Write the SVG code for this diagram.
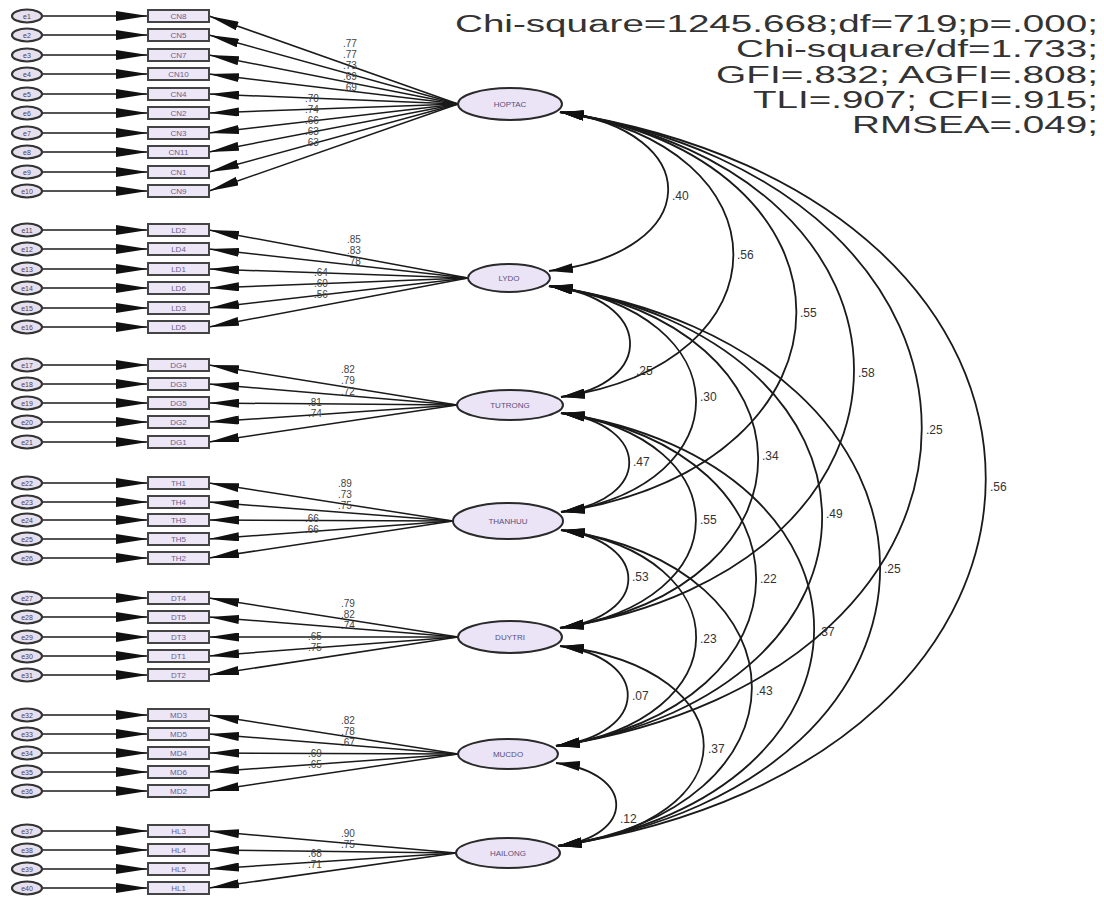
<svg xmlns="http://www.w3.org/2000/svg" width="1104" height="898" viewBox="0 0 1104 898">
<style>
.err{fill:#e6e0ee;stroke:#333;stroke-width:2.2}
.obs{fill:#ece6f6;stroke:#444;stroke-width:2}
.lat{fill:#ebe3f6;stroke:#2a2a2a;stroke-width:2}
.et{font-family:"Liberation Sans",Arial,sans-serif;font-size:7px;fill:#4a4060;text-anchor:middle}
.ot{font-family:"Liberation Sans",Arial,sans-serif;font-size:8px;fill:#6a5f8c;text-anchor:middle}
.lt{font-family:"Liberation Sans",Arial,sans-serif;font-size:8px;fill:#5a4f7c;text-anchor:middle}
.ln{fill:none;stroke:#1a1a1a;stroke-width:1.5}
.cv{fill:none;stroke:#1a1a1a;stroke-width:1.8}
.wt{font-family:"Liberation Sans",Arial,sans-serif;font-size:10px;fill:#444}
.ct{font-family:"Liberation Sans",Arial,sans-serif;font-size:12px;fill:#333}
.st{font-family:"Liberation Sans",Arial,sans-serif;font-size:23px;fill:#333}
</style>
<defs>
<marker id="arrE" markerUnits="userSpaceOnUse" viewBox="0 0 32 10" markerWidth="32" markerHeight="10" refX="32" refY="5" orient="auto"><path d="M0,0 L32,5 L0,10 z" fill="#111"/></marker>
<marker id="arrL" markerUnits="userSpaceOnUse" viewBox="0 0 30 9" markerWidth="30" markerHeight="9" refX="30" refY="4.5" orient="auto"><path d="M0,0 L30,4.5 L0,9 z" fill="#111"/></marker>
<marker id="arrC" markerUnits="userSpaceOnUse" viewBox="0 0 24 10" markerWidth="24" markerHeight="10" refX="24" refY="5" orient="auto-start-reverse"><path d="M0,0 L24,5 L0,10 z" fill="#111"/></marker>
</defs>
<rect width="1104" height="898" fill="#fff"/>

<g id="connectors">
<g id="error-arrows" class="ln" marker-end="url(#arrE)">
<path d="M42,16 H148"/><path d="M42,35 H148"/><path d="M42,55 H148"/><path d="M42,74 H148"/><path d="M42,94 H148"/><path d="M42,113 H148"/><path d="M42,133 H148"/><path d="M42,152 H148"/><path d="M42,172 H148"/><path d="M42,191 H148"/>
<path d="M42,230 H148"/><path d="M42,249 H148"/><path d="M42,269 H148"/><path d="M42,288 H148"/><path d="M42,308 H148"/><path d="M42,327 H148"/>
<path d="M42,365 H148"/><path d="M42,384 H148"/><path d="M42,403 H148"/><path d="M42,422 H148"/><path d="M42,442 H148"/>
<path d="M42,483 H148"/><path d="M42,502 H148"/><path d="M42,520 H148"/><path d="M42,539 H148"/><path d="M42,558 H148"/>
<path d="M42,598 H148"/><path d="M42,617 H148"/><path d="M42,637 H148"/><path d="M42,656 H148"/><path d="M42,675 H148"/>
<path d="M42,715 H148"/><path d="M42,734 H148"/><path d="M42,753 H148"/><path d="M42,772 H148"/><path d="M42,791 H148"/>
<path d="M42,831 H148"/><path d="M42,850 H148"/><path d="M42,869 H148"/><path d="M42,888 H148"/>
</g>
<g id="loadings" class="ln" marker-end="url(#arrL)">
<path d="M458,104 L209,16"/><path d="M458,104 L209,35"/><path d="M458,104 L209,55"/><path d="M458,104 L209,74"/><path d="M458,104 L209,94"/><path d="M458,104 L209,113"/><path d="M458,104 L209,133"/><path d="M458,104 L209,152"/><path d="M458,104 L209,172"/><path d="M458,104 L209,191"/>
<path d="M468,278 L209,230"/><path d="M468,278 L209,249"/><path d="M468,278 L209,269"/><path d="M468,278 L209,288"/><path d="M468,278 L209,308"/><path d="M468,278 L209,327"/>
<path d="M457,405 L209,365"/><path d="M457,405 L209,384"/><path d="M457,405 L209,403"/><path d="M457,405 L209,422"/><path d="M457,405 L209,442"/>
<path d="M453,521 L209,483"/><path d="M453,521 L209,502"/><path d="M453,521 L209,520"/><path d="M453,521 L209,539"/><path d="M453,521 L209,558"/>
<path d="M458,637 L209,598"/><path d="M458,637 L209,617"/><path d="M458,637 L209,637"/><path d="M458,637 L209,656"/><path d="M458,637 L209,675"/>
<path d="M458,754 L209,715"/><path d="M458,754 L209,734"/><path d="M458,754 L209,753"/><path d="M458,754 L209,772"/><path d="M458,754 L209,791"/>
<path d="M456,853 L209,831"/><path d="M456,853 L209,850"/><path d="M456,853 L209,869"/><path d="M456,853 L209,888"/>
</g>
<g id="covariances" class="cv" marker-start="url(#arrC)" marker-end="url(#arrC)">
<path d="M560,112 C706,131 706,252 549,271"/>
<path d="M560,112 C791,146 791,363 561,397"/>
<path d="M560,112 C875,160 875,464 561,512"/>
<path d="M560,112 C952,174 952,566 560,628"/>
<path d="M560,112 C1043,188 1043,670 556,746"/>
<path d="M560,112 C1128,200 1128,758 558,846"/>
<path d="M549,286 C655,299 655,384 561,397"/>
<path d="M549,286 C743,313 743,485 561,512"/>
<path d="M549,286 C826,327 826,587 560,628"/>
<path d="M549,286 C912,341 912,691 556,746"/>
<path d="M549,286 C989,353 989,779 558,846"/>
<path d="M561,413 C652,425 652,500 561,512"/>
<path d="M561,413 C741,439 741,602 560,628"/>
<path d="M561,413 C822,453 822,706 556,746"/>
<path d="M561,413 C899,465 899,794 558,846"/>
<path d="M561,530 C651,542 651,616 560,628"/>
<path d="M561,530 C742,556 742,720 556,746"/>
<path d="M561,530 C816,568 816,808 558,846"/>
<path d="M560,646 C651,658 651,734 556,746"/>
<path d="M560,646 C752,670 752,822 558,846"/>
<path d="M556,763 C636,773 636,836 558,846"/>
</g>
</g>

<g id="errors">
<g id="e1"><ellipse class="err" cx="27" cy="16" rx="15" ry="6.5"/><text class="et" x="27" y="18.5">e1</text></g>
<g id="e2"><ellipse class="err" cx="27" cy="35" rx="15" ry="6.5"/><text class="et" x="27" y="37.5">e2</text></g>
<g id="e3"><ellipse class="err" cx="27" cy="55" rx="15" ry="6.5"/><text class="et" x="27" y="57.5">e3</text></g>
<g id="e4"><ellipse class="err" cx="27" cy="74" rx="15" ry="6.5"/><text class="et" x="27" y="76.5">e4</text></g>
<g id="e5"><ellipse class="err" cx="27" cy="94" rx="15" ry="6.5"/><text class="et" x="27" y="96.5">e5</text></g>
<g id="e6"><ellipse class="err" cx="27" cy="113" rx="15" ry="6.5"/><text class="et" x="27" y="115.5">e6</text></g>
<g id="e7"><ellipse class="err" cx="27" cy="133" rx="15" ry="6.5"/><text class="et" x="27" y="135.5">e7</text></g>
<g id="e8"><ellipse class="err" cx="27" cy="152" rx="15" ry="6.5"/><text class="et" x="27" y="154.5">e8</text></g>
<g id="e9"><ellipse class="err" cx="27" cy="172" rx="15" ry="6.5"/><text class="et" x="27" y="174.5">e9</text></g>
<g id="e10"><ellipse class="err" cx="27" cy="191" rx="15" ry="6.5"/><text class="et" x="27" y="193.5">e10</text></g>
<g id="e11"><ellipse class="err" cx="27" cy="230" rx="15" ry="6.5"/><text class="et" x="27" y="232.5">e11</text></g>
<g id="e12"><ellipse class="err" cx="27" cy="249" rx="15" ry="6.5"/><text class="et" x="27" y="251.5">e12</text></g>
<g id="e13"><ellipse class="err" cx="27" cy="269" rx="15" ry="6.5"/><text class="et" x="27" y="271.5">e13</text></g>
<g id="e14"><ellipse class="err" cx="27" cy="288" rx="15" ry="6.5"/><text class="et" x="27" y="290.5">e14</text></g>
<g id="e15"><ellipse class="err" cx="27" cy="308" rx="15" ry="6.5"/><text class="et" x="27" y="310.5">e15</text></g>
<g id="e16"><ellipse class="err" cx="27" cy="327" rx="15" ry="6.5"/><text class="et" x="27" y="329.5">e16</text></g>
<g id="e17"><ellipse class="err" cx="27" cy="365" rx="15" ry="6.5"/><text class="et" x="27" y="367.5">e17</text></g>
<g id="e18"><ellipse class="err" cx="27" cy="384" rx="15" ry="6.5"/><text class="et" x="27" y="386.5">e18</text></g>
<g id="e19"><ellipse class="err" cx="27" cy="403" rx="15" ry="6.5"/><text class="et" x="27" y="405.5">e19</text></g>
<g id="e20"><ellipse class="err" cx="27" cy="422" rx="15" ry="6.5"/><text class="et" x="27" y="424.5">e20</text></g>
<g id="e21"><ellipse class="err" cx="27" cy="442" rx="15" ry="6.5"/><text class="et" x="27" y="444.5">e21</text></g>
<g id="e22"><ellipse class="err" cx="27" cy="483" rx="15" ry="6.5"/><text class="et" x="27" y="485.5">e22</text></g>
<g id="e23"><ellipse class="err" cx="27" cy="502" rx="15" ry="6.5"/><text class="et" x="27" y="504.5">e23</text></g>
<g id="e24"><ellipse class="err" cx="27" cy="520" rx="15" ry="6.5"/><text class="et" x="27" y="522.5">e24</text></g>
<g id="e25"><ellipse class="err" cx="27" cy="539" rx="15" ry="6.5"/><text class="et" x="27" y="541.5">e25</text></g>
<g id="e26"><ellipse class="err" cx="27" cy="558" rx="15" ry="6.5"/><text class="et" x="27" y="560.5">e26</text></g>
<g id="e27"><ellipse class="err" cx="27" cy="598" rx="15" ry="6.5"/><text class="et" x="27" y="600.5">e27</text></g>
<g id="e28"><ellipse class="err" cx="27" cy="617" rx="15" ry="6.5"/><text class="et" x="27" y="619.5">e28</text></g>
<g id="e29"><ellipse class="err" cx="27" cy="637" rx="15" ry="6.5"/><text class="et" x="27" y="639.5">e29</text></g>
<g id="e30"><ellipse class="err" cx="27" cy="656" rx="15" ry="6.5"/><text class="et" x="27" y="658.5">e30</text></g>
<g id="e31"><ellipse class="err" cx="27" cy="675" rx="15" ry="6.5"/><text class="et" x="27" y="677.5">e31</text></g>
<g id="e32"><ellipse class="err" cx="27" cy="715" rx="15" ry="6.5"/><text class="et" x="27" y="717.5">e32</text></g>
<g id="e33"><ellipse class="err" cx="27" cy="734" rx="15" ry="6.5"/><text class="et" x="27" y="736.5">e33</text></g>
<g id="e34"><ellipse class="err" cx="27" cy="753" rx="15" ry="6.5"/><text class="et" x="27" y="755.5">e34</text></g>
<g id="e35"><ellipse class="err" cx="27" cy="772" rx="15" ry="6.5"/><text class="et" x="27" y="774.5">e35</text></g>
<g id="e36"><ellipse class="err" cx="27" cy="791" rx="15" ry="6.5"/><text class="et" x="27" y="793.5">e36</text></g>
<g id="e37"><ellipse class="err" cx="27" cy="831" rx="15" ry="6.5"/><text class="et" x="27" y="833.5">e37</text></g>
<g id="e38"><ellipse class="err" cx="27" cy="850" rx="15" ry="6.5"/><text class="et" x="27" y="852.5">e38</text></g>
<g id="e39"><ellipse class="err" cx="27" cy="869" rx="15" ry="6.5"/><text class="et" x="27" y="871.5">e39</text></g>
<g id="e40"><ellipse class="err" cx="27" cy="888" rx="15" ry="6.5"/><text class="et" x="27" y="890.5">e40</text></g>
</g>

<g id="observed">
<g id="CN8"><rect class="obs" x="148" y="10" width="61" height="12"/><text class="ot" x="178.5" y="19">CN8</text></g>
<g id="CN5"><rect class="obs" x="148" y="29" width="61" height="12"/><text class="ot" x="178.5" y="38">CN5</text></g>
<g id="CN7"><rect class="obs" x="148" y="49" width="61" height="12"/><text class="ot" x="178.5" y="58">CN7</text></g>
<g id="CN10"><rect class="obs" x="148" y="68" width="61" height="12"/><text class="ot" x="178.5" y="77">CN10</text></g>
<g id="CN4"><rect class="obs" x="148" y="88" width="61" height="12"/><text class="ot" x="178.5" y="97">CN4</text></g>
<g id="CN2"><rect class="obs" x="148" y="107" width="61" height="12"/><text class="ot" x="178.5" y="116">CN2</text></g>
<g id="CN3"><rect class="obs" x="148" y="127" width="61" height="12"/><text class="ot" x="178.5" y="136">CN3</text></g>
<g id="CN11"><rect class="obs" x="148" y="146" width="61" height="12"/><text class="ot" x="178.5" y="155">CN11</text></g>
<g id="CN1"><rect class="obs" x="148" y="166" width="61" height="12"/><text class="ot" x="178.5" y="175">CN1</text></g>
<g id="CN9"><rect class="obs" x="148" y="185" width="61" height="12"/><text class="ot" x="178.5" y="194">CN9</text></g>
<g id="LD2"><rect class="obs" x="148" y="224" width="61" height="12"/><text class="ot" x="178.5" y="233">LD2</text></g>
<g id="LD4"><rect class="obs" x="148" y="243" width="61" height="12"/><text class="ot" x="178.5" y="252">LD4</text></g>
<g id="LD1"><rect class="obs" x="148" y="263" width="61" height="12"/><text class="ot" x="178.5" y="272">LD1</text></g>
<g id="LD6"><rect class="obs" x="148" y="282" width="61" height="12"/><text class="ot" x="178.5" y="291">LD6</text></g>
<g id="LD3"><rect class="obs" x="148" y="302" width="61" height="12"/><text class="ot" x="178.5" y="311">LD3</text></g>
<g id="LD5"><rect class="obs" x="148" y="321" width="61" height="12"/><text class="ot" x="178.5" y="330">LD5</text></g>
<g id="DG4"><rect class="obs" x="148" y="359" width="61" height="12"/><text class="ot" x="178.5" y="368">DG4</text></g>
<g id="DG3"><rect class="obs" x="148" y="378" width="61" height="12"/><text class="ot" x="178.5" y="387">DG3</text></g>
<g id="DG5"><rect class="obs" x="148" y="397" width="61" height="12"/><text class="ot" x="178.5" y="406">DG5</text></g>
<g id="DG2"><rect class="obs" x="148" y="416" width="61" height="12"/><text class="ot" x="178.5" y="425">DG2</text></g>
<g id="DG1"><rect class="obs" x="148" y="436" width="61" height="12"/><text class="ot" x="178.5" y="445">DG1</text></g>
<g id="TH1"><rect class="obs" x="148" y="477" width="61" height="12"/><text class="ot" x="178.5" y="486">TH1</text></g>
<g id="TH4"><rect class="obs" x="148" y="496" width="61" height="12"/><text class="ot" x="178.5" y="505">TH4</text></g>
<g id="TH3"><rect class="obs" x="148" y="514" width="61" height="12"/><text class="ot" x="178.5" y="523">TH3</text></g>
<g id="TH5"><rect class="obs" x="148" y="533" width="61" height="12"/><text class="ot" x="178.5" y="542">TH5</text></g>
<g id="TH2"><rect class="obs" x="148" y="552" width="61" height="12"/><text class="ot" x="178.5" y="561">TH2</text></g>
<g id="DT4"><rect class="obs" x="148" y="592" width="61" height="12"/><text class="ot" x="178.5" y="601">DT4</text></g>
<g id="DT5"><rect class="obs" x="148" y="611" width="61" height="12"/><text class="ot" x="178.5" y="620">DT5</text></g>
<g id="DT3"><rect class="obs" x="148" y="631" width="61" height="12"/><text class="ot" x="178.5" y="640">DT3</text></g>
<g id="DT1"><rect class="obs" x="148" y="650" width="61" height="12"/><text class="ot" x="178.5" y="659">DT1</text></g>
<g id="DT2"><rect class="obs" x="148" y="669" width="61" height="12"/><text class="ot" x="178.5" y="678">DT2</text></g>
<g id="MD3"><rect class="obs" x="148" y="709" width="61" height="12"/><text class="ot" x="178.5" y="718">MD3</text></g>
<g id="MD5"><rect class="obs" x="148" y="728" width="61" height="12"/><text class="ot" x="178.5" y="737">MD5</text></g>
<g id="MD4"><rect class="obs" x="148" y="747" width="61" height="12"/><text class="ot" x="178.5" y="756">MD4</text></g>
<g id="MD6"><rect class="obs" x="148" y="766" width="61" height="12"/><text class="ot" x="178.5" y="775">MD6</text></g>
<g id="MD2"><rect class="obs" x="148" y="785" width="61" height="12"/><text class="ot" x="178.5" y="794">MD2</text></g>
<g id="HL3"><rect class="obs" x="148" y="825" width="61" height="12"/><text class="ot" x="178.5" y="834">HL3</text></g>
<g id="HL4"><rect class="obs" x="148" y="844" width="61" height="12"/><text class="ot" x="178.5" y="853">HL4</text></g>
<g id="HL5"><rect class="obs" x="148" y="863" width="61" height="12"/><text class="ot" x="178.5" y="872">HL5</text></g>
<g id="HL1"><rect class="obs" x="148" y="882" width="61" height="12"/><text class="ot" x="178.5" y="891">HL1</text></g>
</g>

<g id="latents">
<g id="HOPTAC"><ellipse class="lat" cx="510" cy="104" rx="52" ry="16"/><text class="lt" x="510" y="107">HOPTAC</text></g>
<g id="LYDO"><ellipse class="lat" cx="509" cy="278" rx="41" ry="14"/><text class="lt" x="509" y="281">LYDO</text></g>
<g id="TUTRONG"><ellipse class="lat" cx="510" cy="405" rx="53" ry="15"/><text class="lt" x="510" y="408">TUTRONG</text></g>
<g id="THANHUU"><ellipse class="lat" cx="508" cy="521" rx="55" ry="18"/><text class="lt" x="508" y="524">THANHUU</text></g>
<g id="DUYTRI"><ellipse class="lat" cx="510" cy="637" rx="52" ry="16"/><text class="lt" x="510" y="640">DUYTRI</text></g>
<g id="MUCDO"><ellipse class="lat" cx="508" cy="754" rx="50" ry="15"/><text class="lt" x="508" y="757">MUCDO</text></g>
<g id="HAILONG"><ellipse class="lat" cx="508" cy="853" rx="52" ry="15"/><text class="lt" x="508" y="856">HAILONG</text></g>
</g>

<g id="loading-labels" class="wt">
<text x="343" y="47">.77</text><text x="343" y="58">.77</text><text x="343" y="69">.73</text><text x="343" y="80">.69</text><text x="343" y="91">.69</text>
<text x="305" y="102">.70</text><text x="305" y="113">.74</text><text x="305" y="124">.66</text><text x="305" y="135">.63</text><text x="305" y="146">.63</text>
<text x="347" y="243">.85</text><text x="347" y="254">.83</text><text x="347" y="265">.78</text>
<text x="314" y="276">.64</text><text x="314" y="287">.60</text><text x="314" y="298">.56</text>
<text x="341" y="373">.82</text><text x="341" y="384">.79</text><text x="341" y="395">.72</text>
<text x="308" y="406">.81</text><text x="308" y="417">.74</text>
<text x="338" y="487">.89</text><text x="338" y="498">.73</text><text x="338" y="509">.75</text>
<text x="305" y="522">.66</text><text x="305" y="533">.66</text>
<text x="341" y="607">.79</text><text x="341" y="618">.82</text><text x="341" y="629">.74</text>
<text x="308" y="640">.65</text><text x="308" y="651">.75</text>
<text x="341" y="724">.82</text><text x="341" y="735">.78</text><text x="341" y="746">.67</text>
<text x="308" y="757">.69</text><text x="308" y="768">.65</text>
<text x="341" y="837">.90</text><text x="341" y="848">.75</text>
<text x="308" y="857">.68</text><text x="308" y="868">.71</text>
</g>

<g id="covariance-labels" class="ct">
<text x="672" y="200">.40</text>
<text x="737" y="259">.56</text>
<text x="800" y="317">.55</text>
<text x="858" y="377">.58</text>
<text x="926" y="434">.25</text>
<text x="990" y="491">.56</text>
<text x="636" y="375">.25</text>
<text x="700" y="401">.30</text>
<text x="762" y="460">.34</text>
<text x="826" y="518">.49</text>
<text x="884" y="573">.25</text>
<text x="633" y="466">.47</text>
<text x="700" y="524">.55</text>
<text x="760" y="583">.22</text>
<text x="818" y="636">.37</text>
<text x="632" y="581">.53</text>
<text x="700" y="643">.23</text>
<text x="756" y="695">.43</text>
<text x="632" y="700">.07</text>
<text x="708" y="753">.37</text>
<text x="620" y="823">.12</text>
</g>

<g id="fit-stats" class="st">
<text x="455" y="32" textLength="643" lengthAdjust="spacingAndGlyphs">Chi-square=1245.668;df=719;p=.000;</text>
<text x="736" y="57" textLength="362" lengthAdjust="spacingAndGlyphs">Chi-square/df=1.733;</text>
<text x="716" y="83" textLength="382" lengthAdjust="spacingAndGlyphs">GFI=.832; AGFI=.808;</text>
<text x="753" y="108" textLength="345" lengthAdjust="spacingAndGlyphs">TLI=.907; CFI=.915;</text>
<text x="852" y="133" textLength="246" lengthAdjust="spacingAndGlyphs">RMSEA=.049;</text>
</g>
</svg>
